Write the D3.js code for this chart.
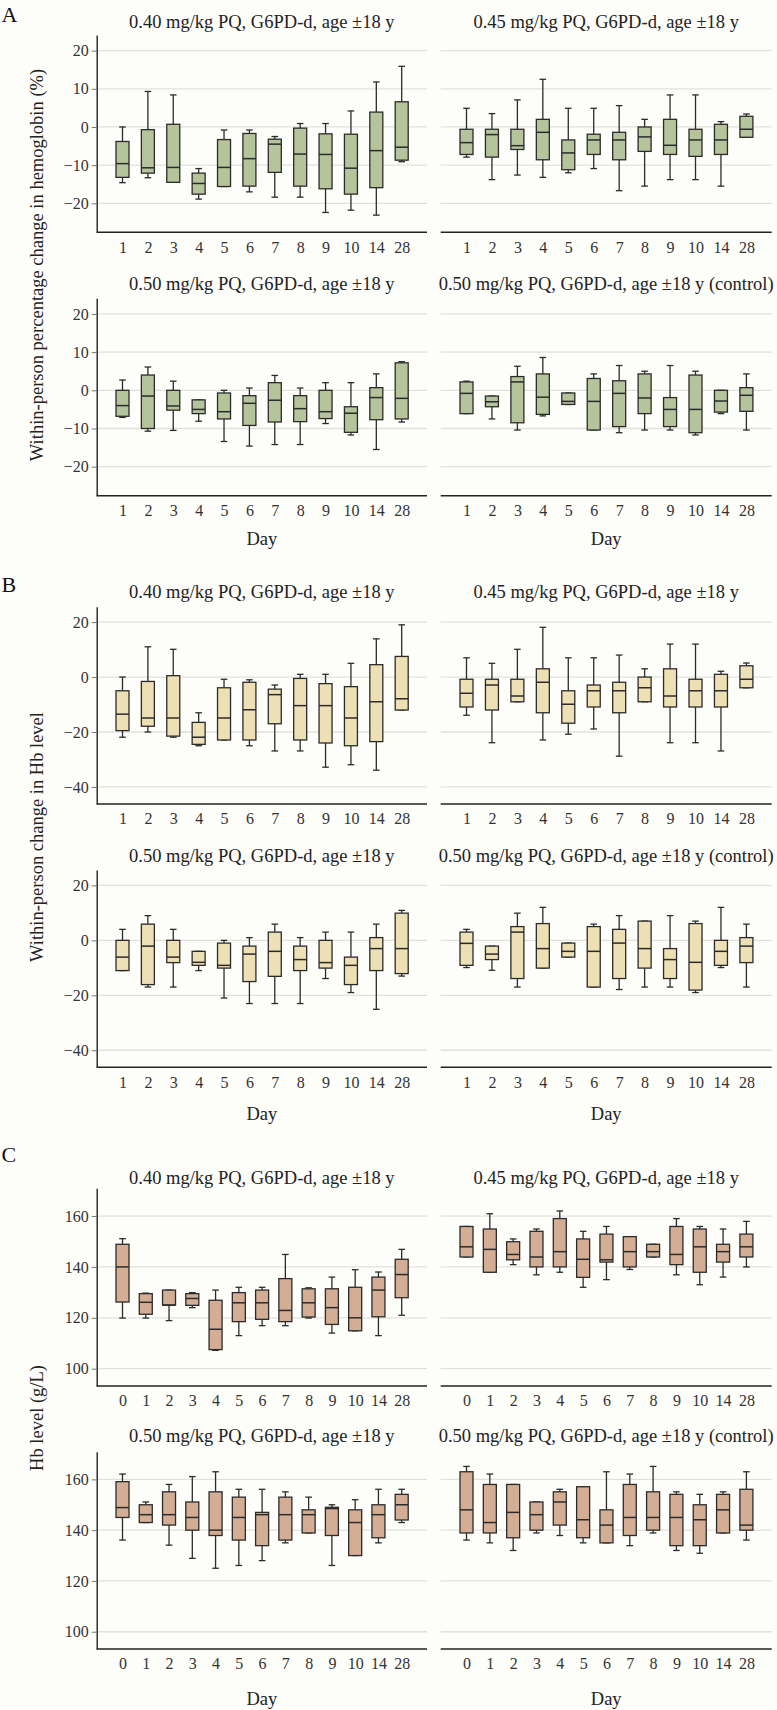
<!DOCTYPE html>
<html><head><meta charset="utf-8">
<script src="https://cdn.jsdelivr.net/npm/d3@7"></script>
<style>body{margin:0;background:#fdfdf9}svg{display:block}</style>
</head><body><svg id="c" width="777" height="1710"></svg>
<script>
// ---------- categories & labels ----------
const daysAB = ["1","2","3","4","5","6","7","8","9","10","14","28"];
const daysC = ["0","1","2","3","4","5","6","7","8","9","10","14","28"];
const panelTitles = [
  "0.40 mg/kg PQ, G6PD-d, age \u00b118 y",
  "0.45 mg/kg PQ, G6PD-d, age \u00b118 y",
  "0.50 mg/kg PQ, G6PD-d, age \u00b118 y",
  "0.50 mg/kg PQ, G6PD-d, age \u00b118 y (control)"
];
const ticksPct = [-20, -10, 0, 10, 20];
const ticksAbs = [-40, -20, 0, 20];
const ticksHb = [100, 120, 140, 160];

// ---------- box statistics: [lowerWhisker, Q1, median, Q3, upperWhisker] ----------
// A: within-person percentage change in hemoglobin (%)
const pctA040 = [[-14.6,-13.2,-9.6,-3.8,0],[-13.3,-12.1,-10.7,-0.7,9.3],[-14.5,-14.5,-10.6,0.7,8.4],[-18.9,-17.6,-14.8,-12.1,-10.9],[-15.6,-15.6,-10.6,-3.3,-0.8],[-17.0,-15.5,-8.3,-1.7,-0.8],[-18.4,-11.9,-4.5,-3.2,-2.5],[-18.4,-15.5,-7.1,-0.3,0.9],[-22.4,-16.2,-7.2,-1.8,0.9],[-21.8,-17.6,-10.8,-1.9,4.2],[-23.1,-15.9,-6.2,3.9,11.8],[-9.1,-8.7,-5.3,6.6,15.9]];
const pctA045 = [[-7.9,-7.2,-4.1,-0.6,4.9],[-13.8,-7.9,-2.0,-0.6,3.5],[-12.6,-5.9,-4.9,-0.6,7.1],[-13.2,-8.6,-1.4,2.0,12.5],[-12.0,-11.2,-6.8,-3.4,4.9],[-10.9,-7.2,-3.4,-1.9,4.9],[-16.7,-8.6,-3.4,-1.4,5.6],[-15.5,-6.4,-2.6,0,2.0],[-13.8,-7.2,-4.8,2.0,8.4],[-13.8,-7.7,-3.4,-0.6,8.4],[-15.5,-7.2,-3.4,0.7,1.4],[-2.7,-2.7,-0.6,2.8,3.4]];
const pctA050 = [[-7.1,-6.8,-4.0,0,2.7],[-10.7,-10.0,-1.5,4.0,6.1],[-10.5,-5.2,-4.1,0,2.4],[-8.1,-6.1,-5.0,-2.5,-2.5],[-13.4,-7.5,-5.6,-0.7,0],[-14.6,-9.2,-3.4,-1.4,0.6],[-14.2,-8.3,-2.6,2.0,3.9],[-14.2,-8.2,-4.8,-1.4,0.6],[-8.7,-7.4,-5.6,0,2.0],[-11.7,-11.0,-6.0,-4.3,2.0],[-15.5,-7.7,-1.9,0.7,4.3],[-8.3,-7.5,-2.1,7.2,7.5]];
const pctA050c = [[-6.1,-6.1,-0.8,2.2,2.4],[-7.5,-4.3,-3.0,-1.5,-1.5],[-10.4,-8.5,2.2,3.6,6.3],[-6.7,-6.3,-1.8,4.3,8.6],[-3.7,-3.7,-2.9,-0.7,-0.7],[-10.4,-10.4,-2.9,3.1,4.3],[-11.1,-9.5,-0.8,2.5,6.5],[-10.4,-6.1,-2.0,4.3,5.0],[-10.4,-9.5,-5.0,-1.9,6.5],[-11.7,-11.1,-5.0,4.0,5.0],[-6.1,-5.7,-2.8,0,0],[-10.4,-5.5,-1.3,0.7,4.3]];
// B: within-person change in Hb level
const absB040 = [[-21.9,-19.5,-13.5,-5.0,0],[-20,-17.9,-14.9,-1.6,11.0],[-21.9,-21.5,-14.9,0.5,10.1],[-25.0,-24.5,-21.9,-16.5,-13.0],[-22.9,-22.9,-14.9,-3.9,-0.8],[-25.0,-22.9,-11.9,-1.9,-1.0],[-26.9,-17.0,-6.4,-4.4,-2.9],[-26.9,-22.9,-10.4,-0.5,1.0],[-32.8,-24.0,-10.4,-2.4,1.0],[-31.9,-25.0,-14.9,-3.5,5.0],[-33.9,-23.5,-9.0,4.5,13.9],[-12.0,-12.0,-7.9,7.5,19.0]];
const absB045 = [[-13.9,-10.9,-5.9,-0.8,7.0],[-23.9,-12.0,-2.9,-0.8,5.0],[-9.0,-9.0,-6.9,-0.8,10.1],[-22.9,-13.0,-1.9,3.0,18.1],[-20.8,-16.8,-9.9,-5.0,7.0],[-18.9,-10.9,-5.0,-2.9,7.0],[-28.8,-13.0,-5.0,-1.9,8.0],[-9.0,-9.0,-3.9,0,3.0],[-23.9,-10.9,-6.9,3.0,12.0],[-23.9,-10.9,-5.0,-0.8,12.0],[-26.9,-10.9,-5.0,1.0,2.1],[-3.9,-3.9,-0.8,4.1,5.1]];
const absB050 = [[-11,-11,-6.1,0,4],[-17,-16.1,-2.1,5.9,9],[-17,-8.1,-6.1,0,4],[-11,-9.1,-8,-4,-4],[-21,-10.1,-9.1,-1,0],[-23,-15,-5,-2.1,1],[-23,-13.1,-4,3,5.9],[-23,-11,-7,-2.1,1],[-13.9,-10.1,-8.1,0,3],[-19,-16.1,-9.1,-6.1,3],[-25.1,-11,-3,1,5.9],[-13,-12.1,-3,9.9,10.9]];
const absB050c = [[-9.9,-9.1,-1.1,3,4],[-10.9,-7,-5,-2.1,-2.1],[-17,-13.9,3,5,9.9],[-10.1,-10.1,-3,6.1,12],[-6.1,-6.1,-4,-1,-1],[-17,-17,-4,5,5.9],[-17.9,-13.9,-1,4,9],[-17,-10.1,-3,7,7],[-17,-13.9,-7,-3,9],[-19,-18.1,-8,6.1,7],[-9.9,-9.1,-4,0,12],[-17,-8.1,-2.1,1,5.9]];
// C: Hb level (g/L)
const hbC040 = [[119.9,126.2,140.0,148.9,151.1],[119.9,121.4,126.1,129.5,129.7],[118.9,125.0,125.0,130.9,130.9],[124.0,124.9,127.6,129.5,129.9],[107.2,107.5,115.5,126.9,130.9],[113.0,118.5,125.9,129.9,132.0],[116.9,119.4,125.9,130.9,132.0],[116.9,118.5,122.9,135.4,144.9],[119.9,120.3,125.9,131.4,131.8],[114.0,117.4,124.0,131.4,136.0],[114.9,114.9,120.0,132.0,138.9],[113.0,120.4,130.9,136.0,138.0],[121.0,127.9,137.0,143.0,146.9]];
const hbC045 = [[143.9,143.9,147.9,155.9,155.9],[137.9,137.9,146.9,154.9,160.9],[140.9,142.8,144.9,149.9,151.0],[136.9,140.0,143.9,154.0,154.9],[137.9,140.0,146.0,159.0,162.0],[132.0,135.9,143.0,151.0,154.0],[135.0,141.9,142.8,152.9,155.9],[139.0,140.0,146.0,151.9,151.9],[143.9,143.9,146.0,148.9,148.9],[136.9,140.9,144.9,155.9,159.0],[133.0,137.9,147.9,154.9,155.9],[136.0,141.9,146.0,148.9,154.9],[140.0,143.9,147.9,152.9,157.9]];
const hbC050 = [[136.1,145.0,148.9,159.1,162.1],[143.0,143.0,146.1,150.0,151.1],[134.1,142.0,146.1,155.1,158.0],[128.9,140.0,145.0,151.1,161.1],[125.0,137.9,140.0,155.1,163.0],[126.1,136.1,145.0,153.0,156.1],[128.0,133.9,146.1,147.0,156.1],[135.0,136.1,146.1,153.0,155.1],[138.9,138.9,146.1,148.0,153.0],[126.1,137.9,148.5,149.0,150.0],[130.0,130.0,143.0,148.0,152.0],[135.0,137.0,146.1,150.0,156.1],[143.0,144.0,150.0,154.1,156.1]];
const hbC050c = [[136.1,138.9,148.0,163.0,165.1],[135.0,138.9,143.0,158.0,162.1],[132.0,137.0,147.0,158.0,158.0],[138.9,140.0,146.1,151.1,151.1],[137.9,142.0,151.1,155.1,156.1],[135.0,137.0,144.1,157.1,157.1],[135.0,135.0,142.0,148.0,163.0],[133.9,137.9,145.0,158.0,162.1],[138.9,140.0,145.0,155.1,165.1],[132.0,133.9,145.0,154.1,155.1],[130.9,133.9,144.1,150.0,154.1],[138.9,138.9,148.0,154.1,155.1],[136.1,140.0,142.0,156.1,163.0]];

// ---------- layout ----------
const FONT = "'Liberation Serif', 'DejaVu Serif', serif";
const svg = d3.select("#c");
svg.append("rect").attr("width", 777).attr("height", 1710).attr("fill", "#fdfdf9");

const cols = [[96.7, 427], [440.7, 771.7]];
const sections = [
  {letter: "A", letterY: 21.7, ytitle: "Within-person percentage change in hemoglobin (%)", ytitleY: 265, dayY: 545,
   rows: [[35, 232.3, 27.7], [298.3, 495.7, 290]], domain: [-27.6, 24.1], ticks: ticksPct, days: daysAB,
   fill: "#b6c49c", data: [pctA040, pctA045, pctA050, pctA050c]},
  {letter: "B", letterY: 591.5, ytitle: "Within-person change in Hb level", ytitleY: 837, dayY: 1120,
   rows: [[606.7, 804, 598], [870, 1067.3, 861.7]], domain: [-46.2, 25.6], ticks: ticksAbs, days: daysAB,
   fill: "#ece0b4", data: [absB040, absB045, absB050, absB050c]},
  {letter: "C", letterY: 1161.5, ytitle: "Hb level (g/L)", ytitleY: 1418, dayY: 1705,
   rows: [[1188.3, 1386, 1183.5], [1451.7, 1649, 1442]], domain: [93.2, 170.9], ticks: ticksHb, days: daysC,
   fill: "#d4ae94", data: [hbC040, hbC045, hbC050, hbC050c]}
];

const fmt = d => d < 0 ? "\u2212" + Math.abs(d) : String(d);

sections.forEach(sec => {
  svg.append("text").attr("x", 1.5).attr("y", sec.letterY)
    .attr("font-family", FONT).attr("font-size", 22).attr("fill", "#111").text(sec.letter);
  svg.append("text").attr("transform", `translate(42.5,${sec.ytitleY}) rotate(-90)`)
    .attr("text-anchor", "middle").attr("font-family", FONT).attr("font-size", 18.5).attr("fill", "#222")
    .text(sec.ytitle);

  sec.data.forEach((stats, i) => {
    const r = Math.floor(i / 2), c = i % 2;
    const [top, bottom, titleY] = sec.rows[r];
    const [x0, x1] = cols[c];
    const y = d3.scaleLinear().domain(sec.domain).range([bottom, top]);
    const x = d3.scalePoint().domain(sec.days).range([x0 + 25.8, x1 - 25.3]);
    const g = svg.append("g");

    // gridlines
    g.selectAll("line.grid").data(sec.ticks).join("line")
      .attr("x1", x0).attr("x2", x1).attr("y1", d => y(d)).attr("y2", d => y(d))
      .attr("stroke", "#e1e1de").attr("stroke-width", 1.3);

    // title
    g.append("text").attr("x", (x0 + x1) / 2).attr("y", titleY).attr("text-anchor", "middle")
      .attr("font-family", FONT).attr("font-size", 18.5).attr("fill", "#222").text(panelTitles[i]);

    // y axis (left column only)
    if (c === 0) {
      const ax = g.append("g").attr("transform", `translate(${x0},0)`)
        .call(d3.axisLeft(y).tickValues(sec.ticks).tickFormat(fmt).tickSizeInner(5).tickSizeOuter(0).tickPadding(3));
      ax.select(".domain").attr("stroke", "#222").attr("stroke-width", 1.4);
      ax.selectAll(".tick line").attr("stroke", "#777").attr("stroke-width", 1);
      ax.selectAll(".tick text").attr("font-family", FONT).attr("font-size", 16).attr("fill", "#333");
    }
    // x axis line + labels
    g.append("line").attr("x1", x0).attr("x2", x1).attr("y1", bottom).attr("y2", bottom)
      .attr("stroke", "#222").attr("stroke-width", 1.4);
    const xa = g.append("g").attr("transform", `translate(0,${bottom})`)
      .call(d3.axisBottom(x).tickSize(0).tickPadding(9));
    xa.select(".domain").remove();
    xa.selectAll(".tick text").attr("font-family", FONT).attr("font-size", 16).attr("fill", "#333");

    // boxes
    const bw = 13, cw = 3.3;
    const b = g.selectAll("g.box").data(stats).join("g")
      .attr("transform", (d, j) => `translate(${x(sec.days[j])},0)`);
    const stroke = "#2b2b2b";
    b.append("line").attr("x1", 0).attr("x2", 0).attr("y1", d => y(d[4])).attr("y2", d => y(d[3]))
      .attr("stroke", stroke).attr("stroke-width", 1.3);
    b.append("line").attr("x1", 0).attr("x2", 0).attr("y1", d => y(d[1])).attr("y2", d => y(d[0]))
      .attr("stroke", stroke).attr("stroke-width", 1.3);
    b.append("line").attr("x1", -cw).attr("x2", cw).attr("y1", d => y(d[4])).attr("y2", d => y(d[4]))
      .attr("stroke", stroke).attr("stroke-width", 1.3);
    b.append("line").attr("x1", -cw).attr("x2", cw).attr("y1", d => y(d[0])).attr("y2", d => y(d[0]))
      .attr("stroke", stroke).attr("stroke-width", 1.3);
    b.append("rect").attr("x", -bw / 2).attr("width", bw)
      .attr("y", d => y(d[3])).attr("height", d => Math.max(0.5, y(d[1]) - y(d[3])))
      .attr("fill", sec.fill).attr("stroke", stroke).attr("stroke-width", 1.3);
    b.append("line").attr("x1", -bw / 2).attr("x2", bw / 2).attr("y1", d => y(d[2])).attr("y2", d => y(d[2]))
      .attr("stroke", stroke).attr("stroke-width", 1.5);

    // "Day" label on bottom row
    if (r === 1) {
      g.append("text").attr("x", (x0 + x1) / 2).attr("y", sec.dayY).attr("text-anchor", "middle")
        .attr("font-family", FONT).attr("font-size", 18.5).attr("fill", "#222").text("Day");
    }
  });
});
</script></body></html>
